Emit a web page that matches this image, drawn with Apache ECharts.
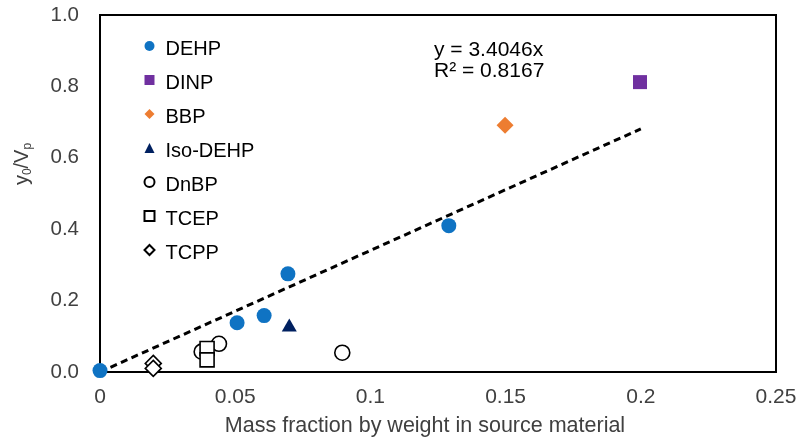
<!DOCTYPE html>
<html><head><meta charset="utf-8">
<script src="https://cdn.jsdelivr.net/npm/echarts@6/dist/echarts.min.js"></script>
<style>html,body{margin:0;padding:0;background:#fff}#c{width:800px;height:444px}</style>
</head><body><div id="c"></div>
<script>
const DEHP = [[0, 0.004], [0.0507, 0.138], [0.0607, 0.158], [0.0695, 0.275], [0.129, 0.41]];
const DINP = [[0.1997, 0.812]];
const BBP = [[0.1498, 0.691]];
const ISO_DEHP = [[0.07, 0.132]];
const DnBP = [[0.0376, 0.057], [0.044, 0.079], [0.0896, 0.054]];
const TCEP = [[0.0396, 0.066], [0.0396, 0.034]];
const TCPP = [[0.0197, 0.024], [0.0197, 0.01]];
const SLOPE = 3.4046;
const R2 = 0.8167;
const FIT_X = [0, 0.2];
const xTicks = [0, 0.05, 0.1, 0.15, 0.2, 0.25];
const yTicks = [0, 0.2, 0.4, 0.6, 0.8, 1.0];
const legendNames = ['DEHP', 'DINP', 'BBP', 'Iso-DEHP', 'DnBP', 'TCEP', 'TCPP'];
const xTitle = 'Mass fraction by weight in source material';

const font = 'Liberation Sans, Arial, sans-serif';
const grey = '#404040';
const chart = echarts.init(document.getElementById('c'), null, {renderer: 'canvas'});
const open = {color: '#fff', borderColor: '#000', borderWidth: 1.6, opacity: 1};
chart.setOption({
  animation: false,
  grid: {left: 100, right: 24, top: 15, bottom: 72, show: true, borderColor: '#000', borderWidth: 2},
  legend: {
    orient: 'vertical', left: 138.5, top: 34.5, itemGap: 14, itemWidth: 10, itemHeight: 10,
    formatter: name => '{t|' + name + '}',
    textStyle: {fontFamily: font, fontSize: 20, color: '#000',
      rich: {t: {fontFamily: font, fontSize: 20, color: '#000', padding: [7, 0, 0, 6]}}},
    data: legendNames
  },
  xAxis: {
    type: 'value', min: 0, max: 0.25, interval: 0.05,
    name: xTitle, nameLocation: 'middle', nameGap: 43,
    nameTextStyle: {fontFamily: font, fontSize: 21.5, color: grey, padding: [0, 26, 0, 0]},
    axisLine: {lineStyle: {color: '#000', width: 2}}, axisTick: {show: false}, splitLine: {show: false},
    axisLabel: {fontFamily: font, fontSize: 21, color: grey, margin: 15,
      formatter: v => { const t = xTicks.find(k => Math.abs(k - v) < 1e-9); return t === undefined ? '' : String(t); }}
  },
  yAxis: {
    type: 'value', min: 0, max: 1, interval: 0.2,
    axisLine: {lineStyle: {color: '#000', width: 2}}, axisTick: {show: false}, splitLine: {show: false},
    axisLabel: {fontFamily: font, fontSize: 20.5, color: grey, margin: 21,
      formatter: v => { const t = yTicks.find(k => Math.abs(k - v) < 1e-9); return t === undefined ? '' : t.toFixed(1); }}
  },
  graphic: [{
    type: 'text', x: 434, y: 40,
    style: {text: 'y = ' + SLOPE + 'x\nR² = ' + R2, font: '21px ' + font, fill: '#000', lineHeight: 21}
  }, {
    type: 'text', x: 22, y: 164, rotation: Math.PI / 2,
    style: {
      text: '{n|y}{s|0}{n|/V}{s|p}', align: 'center', verticalAlign: 'middle',
      rich: {
        n: {fontFamily: font, fontSize: 20, fill: grey, color: grey, lineHeight: 24},
        s: {fontFamily: font, fontSize: 12, fill: grey, color: grey, lineHeight: 24, verticalAlign: 'bottom'}
      }
    }
  }],
  series: [
    {name: 'fit', type: 'line', data: FIT_X.map(x => [x, SLOPE * x]), symbol: 'none', z: 1,
     lineStyle: {color: '#000', width: 3, type: [7, 4.5]}, silent: true},
    {name: 'DEHP', type: 'scatter', data: DEHP, symbol: 'circle', symbolSize: 15, itemStyle: {color: '#0f73c3', opacity: 1}, z: 3},
    {name: 'DINP', type: 'scatter', data: DINP, symbol: 'rect', symbolSize: 14, itemStyle: {color: '#7030A0', opacity: 1}, z: 3},
    {name: 'BBP', type: 'scatter', data: BBP, symbol: 'diamond', symbolSize: 17, itemStyle: {color: '#ED7D31', opacity: 1}, z: 3},
    {name: 'Iso-DEHP', type: 'scatter', data: ISO_DEHP, symbol: 'triangle', symbolSize: [15, 13], itemStyle: {color: '#002060', opacity: 1}, z: 3},
    {name: 'DnBP', type: 'scatter', data: DnBP, symbol: 'circle', symbolSize: 15, itemStyle: open, z: 2},
    {name: 'TCEP', type: 'scatter', data: TCEP, symbol: 'rect', symbolSize: 14, itemStyle: open, z: 2},
    {name: 'TCPP', type: 'scatter', data: TCPP, symbol: 'diamond', symbolSize: 16, itemStyle: open, z: 2}
  ]
});
</script></body></html>
